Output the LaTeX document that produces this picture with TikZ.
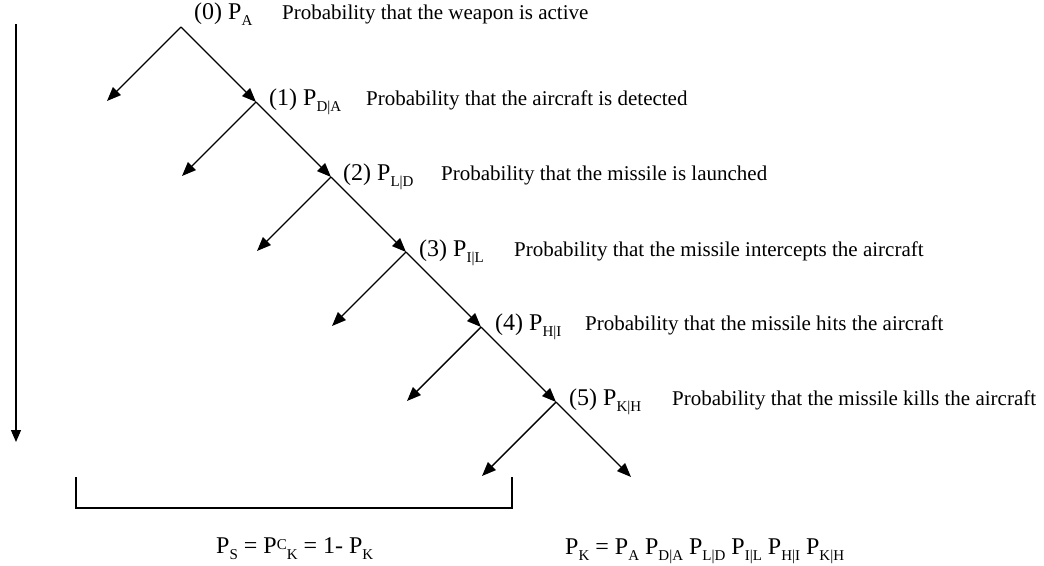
\documentclass[tikz,border=0pt]{standalone}
\usepackage{fontspec}
\setmainfont{Liberation Serif}
\usetikzlibrary{arrows.meta}
\newcommand{\sbx}[1]{\raisebox{-6pt}{\fontsize{15}{15}\selectfont #1}}
\newcommand{\spx}[1]{\raisebox{4pt}{\fontsize{15}{15}\selectfont #1}}
\begin{document}
\begin{tikzpicture}[x=1pt,y=-1pt,
  arr/.style={line width=1.4pt,-{Triangle[length=14pt,width=11pt]}},
  plain/.style={line width=1.4pt},
  txt/.style={anchor=base west,inner sep=0pt,font=\fontsize{21}{25}\selectfont},
  lab/.style={anchor=base west,inner sep=0pt,font=\fontsize{24}{28}\selectfont}]
\useasboundingbox[fill=white] (0,0) rectangle (1044,565);
% junctions
\coordinate (J0) at (181,27);
\coordinate (J1) at (256,102);
\coordinate (J2) at (331,177);
\coordinate (J3) at (406,252);
\coordinate (J4) at (481,327);
\coordinate (J5) at (556,402);
\coordinate (E) at (631,477);
\coordinate (L0) at (107,101);
\coordinate (L1) at (182,176);
\coordinate (L2) at (257,251);
\coordinate (L3) at (332,326);
\coordinate (L4) at (407,401);
\coordinate (L5) at (482,476);
\coordinate (V0) at (16,24);
\coordinate (V1) at (16,442);
\coordinate (B0) at (76,477);
\coordinate (B1) at (76,508);
\coordinate (B2) at (512,508);
\coordinate (B3) at (512,477);
% main chain
\draw[arr] (J0) -- (J1);
\draw[arr] (J1) -- (J2);
\draw[arr] (J2) -- (J3);
\draw[arr] (J3) -- (J4);
\draw[arr] (J4) -- (J5);
\draw[arr] (J5) -- (E);
% branches
\draw[arr] (J0) -- (L0);
\draw[arr] (J1) -- (L1);
\draw[arr] (J2) -- (L2);
\draw[arr] (J3) -- (L3);
\draw[arr] (J4) -- (L4);
\draw[arr] (J5) -- (L5);
% time arrow and bracket
\draw[line width=1.2pt,-{Triangle[length=12pt,width=10pt]}] (V0) -- (V1);
\draw[plain] (B0) -- (B1) -- (B2) -- (B3);
% labels
\node[lab] (l0) at (194,19) {(0) P\sbx{A}};
\node[txt] (p0) at (282,19) {Probability that the weapon is active};
\node[lab] (l1) at (269,105) {(1) P\sbx{D|A}};
\node[txt] (p1) at (366,105) {Probability that the aircraft is detected};
\node[lab] (l2) at (343,180) {(2) P\sbx{L|D}};
\node[txt] (p2) at (441,180) {Probability that the missile is launched};
\node[lab] (l3) at (419,256) {(3) P\sbx{I|L}};
\node[txt] (p3) at (514,256) {Probability that the missile intercepts the aircraft};
\node[lab] (l4) at (495,330) {(4) P\sbx{H|I}};
\node[txt] (p4) at (585,330) {Probability that the missile hits the aircraft};
\node[lab] (l5) at (569,405) {(5) P\sbx{K|H}};
\node[txt] (p5) at (672,405) {Probability that the missile kills the aircraft};
% formulas
\node[lab] (fs) at (216,553) {P\sbx{S} = P\spx{C}\sbx{K} = 1- P\sbx{K}};
\node[lab] (fk) at (565,554) {P\sbx{K} = P\sbx{A} P\sbx{D|A} P\sbx{L|D} P\sbx{I|L} P\sbx{H|I} P\sbx{K|H}};
\end{tikzpicture}
\end{document}
